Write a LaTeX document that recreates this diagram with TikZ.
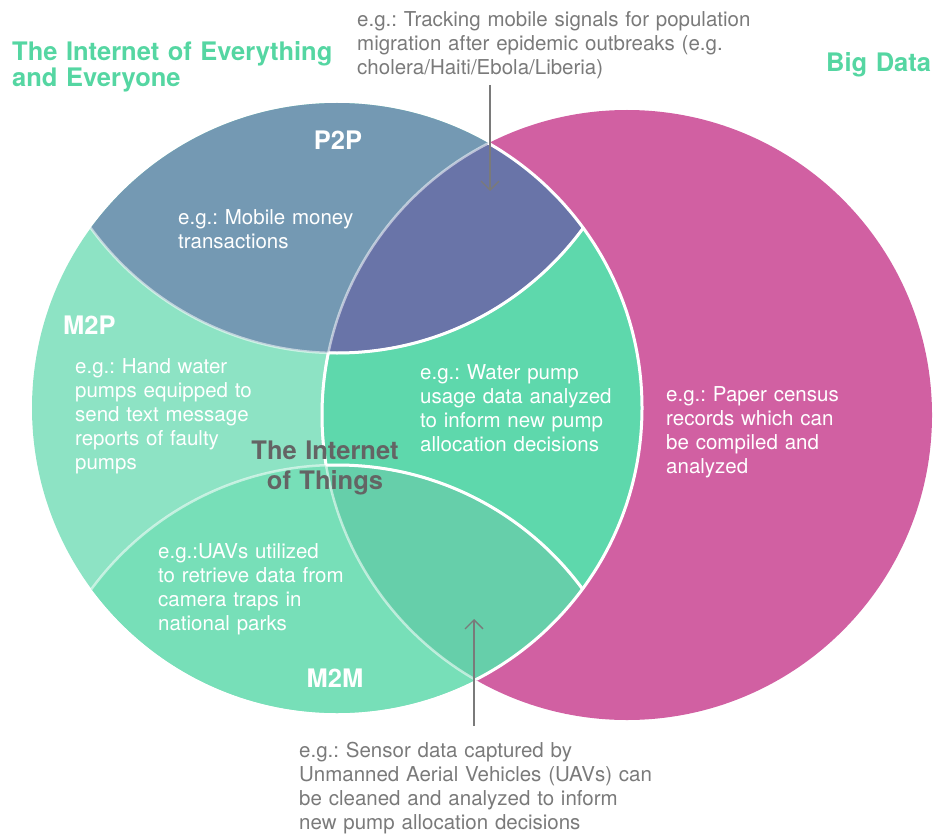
\documentclass[tikz,border=0pt]{standalone}
\usepackage{fontspec}
\setmainfont{TeX Gyre Heros}
\usetikzlibrary{arrows.meta}
\definecolor{ptwop}{HTML}{7499B3}
\definecolor{lenstop}{HTML}{6974A8}
\definecolor{mtwop}{HTML}{8DE3C4}
\definecolor{lensmid}{HTML}{5ED8AC}
\definecolor{mtwom}{HTML}{77DFB8}
\definecolor{lensbot}{HTML}{66CFAA}
\definecolor{bigdata}{HTML}{D160A2}
\definecolor{titlegreen}{HTML}{55D6A2}
\definecolor{annogray}{HTML}{7A7A7A}
\definecolor{iotgray}{HTML}{646464}
\frenchspacing
\begin{document}
\begin{tikzpicture}[x=1pt,y=-1pt,
  body/.style={anchor=base west, inner sep=0pt, text width=420pt, align=left, text=white, font=\fontsize{20.5}{24}\selectfont\frenchspacing},
  anno/.style={body, text=annogray},
  region/.style={inner sep=0pt, text=white, font=\fontsize{25.5}{28}\selectfont\bfseries},
  titletext/.style={anchor=base west, inner sep=0pt, text width=400pt, align=left, text=titlegreen, font=\fontsize{25.5}{26}\selectfont\bfseries},
  iotlabel/.style={anchor=base, inner sep=0pt, text width=200pt, align=center, text=iotgray, font=\fontsize{25.5}{30}\selectfont\bfseries},
  solidline/.style={draw=white, line width=3pt},
  softline/.style={draw=white, draw opacity=0.55, line width=2.5pt},
  pointer/.style={draw=annogray, line width=1.3pt, -{Straight Barb[length=9pt,width=18pt]}}
]
\useasboundingbox (0,0) rectangle (941,834);
\def\Lc{(337,408) circle[radius=305pt]}
\def\Bc{(627,415) circle[radius=305pt]}
\def\Ac{(337,48) circle[radius=305pt]}
\def\Cc{(337,770) circle[radius=305pt]}

% base fills
\fill[bigdata] \Bc;
\fill[mtwop] \Lc;
\begin{scope}
  \clip \Lc;
  \clip \Bc;
  \fill[lensmid] \Bc;
\end{scope}
% solid left edge of the lens (middle part kept after the next fills)
\begin{scope}
  \clip \Lc;
  \draw[solidline] \Bc;
\end{scope}
% top and bottom sub-regions
\begin{scope}
  \clip \Lc;
  \fill[ptwop] \Ac;
  \fill[mtwom] \Cc;
  \clip \Bc;
  \fill[lenstop] \Ac;
  \fill[lensbot] \Cc;
\end{scope}
% separators
\begin{scope}
  \clip \Lc;
  \draw[softline] \Ac;
  \draw[softline] \Cc;
  \draw[softline] \Bc;
  \clip \Bc;
  \draw[solidline] \Ac;
  \draw[solidline] \Cc;
\end{scope}
\begin{scope}
  \clip \Bc;
  \draw[solidline] \Lc;
\end{scope}

% titles
\node[titletext] (ioe) at (12,61) {The Internet of Everything\\and Everyone};
\node[titletext, text width=110pt] (bigd) at (826,72) {Big Data};

% region labels
\node[region, anchor=base] (p2p) at (338,150) {P2P};
\node[region, anchor=base west] (m2p) at (63,334) {M2P};
\node[region, anchor=base] (m2m) at (335,687) {M2M};

% region texts
\node[body] (tmob) at (178,225) {e.g.: Mobile money\\transactions};
\node[body] (thand) at (75,373) {e.g.: Hand water\\pumps equipped to\\send text message\\reports of faulty\\pumps};
\node[body] (twater) at (420,379) {e.g.: Water pump\\usage data analyzed\\to inform new pump\\allocation decisions};
\node[body] (tpaper) at (666,401) {e.g.: Paper census\\records which can\\be compiled and\\analyzed};
\node[body] (tuav) at (158,558) {e.g.:UAVs utilized\\to retrieve data from\\camera traps in\\national parks};

\node[iotlabel] (iot) at (325,459) {The Internet\\of Things};

% annotations
\node[anno] (atop) at (357,27) {e.g.: Tracking mobile signals for population\\migration after epidemic outbreaks (e.g.\\cholera/Haiti/Ebola/Liberia)};
\node[anno] (abot) at (299,757) {e.g.: Sensor data captured by\\Unmanned Aerial Vehicles (UAVs) can\\be cleaned and analyzed to inform\\new pump allocation decisions};

\coordinate (topstart) at (490,85);
\coordinate (toptip) at (490,191);
\coordinate (botstart) at (474,726);
\coordinate (bottip) at (474,619);
\draw[pointer] (topstart) -- (toptip);
\draw[pointer] (botstart) -- (bottip);
\end{tikzpicture}
\end{document}
